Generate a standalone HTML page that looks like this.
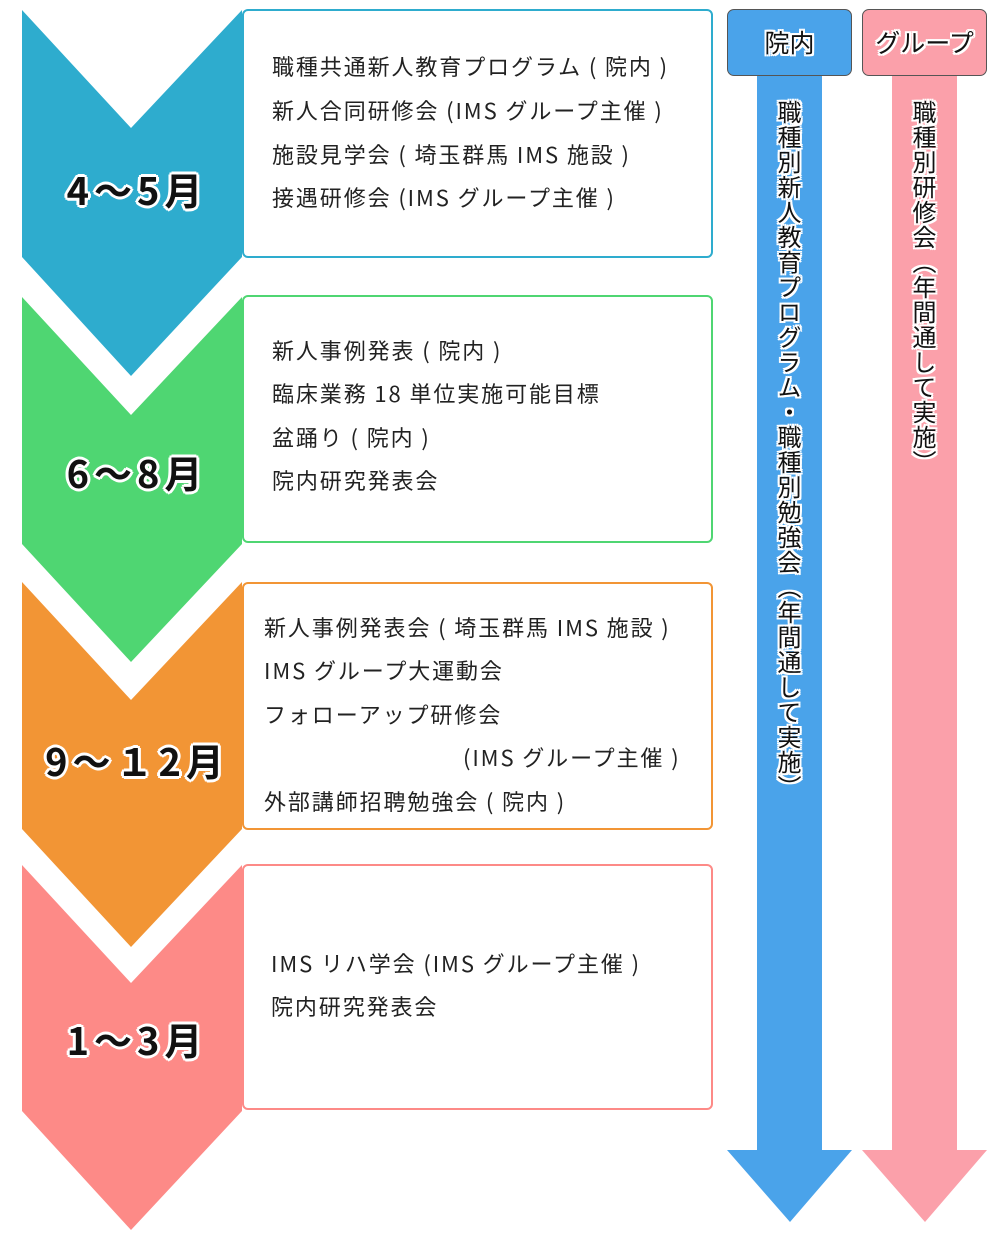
<!DOCTYPE html>
<html><head><meta charset="utf-8"><style>
body{margin:0;background:#fff;width:1000px;height:1246px;position:relative;overflow:hidden;font-family:"Noto Sans CJK JP","Liberation Sans",sans-serif;}
svg{position:absolute;left:0;top:0}
.box{position:absolute;left:242px;width:471px;background:#fff;border:2px solid;border-radius:6px;box-sizing:border-box}
.t{position:absolute;font-size:22px;color:#222;white-space:nowrap;line-height:1;letter-spacing:1.9px}
.m{position:absolute;font-size:38px;font-weight:bold;color:#111;white-space:nowrap;line-height:1;left:27px;width:220px;text-align:center;letter-spacing:5px;
 text-shadow:2px 0 0 #fff,-2px 0 0 #fff,0 2px 0 #fff,0 -2px 0 #fff,2px 2px 0 #fff,-2px -2px 0 #fff,2px -2px 0 #fff,-2px 2px 0 #fff,3px 0 0 #fff,-3px 0 0 #fff,0 3px 0 #fff,0 -3px 0 #fff}
.w{text-shadow:2px 0 0 #fff,-2px 0 0 #fff,0 2px 0 #fff,0 -2px 0 #fff,2px 2px 0 #fff,-2px -2px 0 #fff,2px -2px 0 #fff,-2px 2px 0 #fff}
.hd{position:absolute;top:9px;width:125px;height:67px;border:1px solid #555;border-radius:7px;box-sizing:border-box;font-size:25px;color:#111;text-align:center;line-height:65px}
.v{position:absolute;writing-mode:vertical-rl;font-size:24px;color:#111;letter-spacing:1px;line-height:1}
</style></head><body>
<svg width="1000" height="1246">
<polygon points="22,10 131,128 242,10 242,257 131,376 22,257" fill="#2eacce"/>
<polygon points="22,297 131,415 242,297 242,544 131,662 22,544" fill="#4fd672"/>
<polygon points="22,582 131,700 242,582 242,829 131,947 22,829" fill="#f29535"/>
<polygon points="22,865 131,983 242,865 242,1111 131,1230 22,1111" fill="#fd8a87"/>
<polygon points="757,76 822,76 822,1150 852,1150 790,1222 727,1150 757,1150" fill="#4aa3ea"/>
<polygon points="892,76 957,76 957,1150 987,1150 925,1222 862,1150 892,1150" fill="#fba0aa"/>
</svg>
<div class="box" style="top:9px;height:249px;border-color:#2eacce"></div>
<div class="box" style="top:295px;height:248px;border-color:#4fd672"></div>
<div class="box" style="top:582px;height:248px;border-color:#f29535"></div>
<div class="box" style="top:864px;height:246px;border-color:#fd8a87"></div>

<div class="t" style="left:272px;top:55px">職種共通新人教育プログラム ( 院内 )</div>
<div class="t" style="left:272px;top:99px">新人合同研修会 (IMS グループ主催 )</div>
<div class="t" style="left:272px;top:143px">施設見学会 ( 埼玉群馬 IMS 施設 )</div>
<div class="t" style="left:272px;top:186px">接遇研修会 (IMS グループ主催 )</div>

<div class="t" style="left:272px;top:339px">新人事例発表 ( 院内 )</div>
<div class="t" style="left:272px;top:382px">臨床業務 18 単位実施可能目標</div>
<div class="t" style="left:272px;top:426px">盆踊り ( 院内 )</div>
<div class="t" style="left:272px;top:469px">院内研究発表会</div>

<div class="t" style="left:264px;top:616px">新人事例発表会 ( 埼玉群馬 IMS 施設 )</div>
<div class="t" style="left:264px;top:659px">IMS グループ大運動会</div>
<div class="t" style="left:264px;top:703px">フォローアップ研修会</div>
<div class="t" style="left:463px;top:746px">(IMS グループ主催 )</div>
<div class="t" style="left:264px;top:790px">外部講師招聘勉強会 ( 院内 )</div>

<div class="t" style="left:271px;top:952px">IMS リハ学会 (IMS グループ主催 )</div>
<div class="t" style="left:271px;top:995px">院内研究発表会</div>

<div class="m" style="top:170px">4～5月</div>
<div class="m" style="top:453px">6～8月</div>
<div class="m" style="top:741px">9～１2月</div>
<div class="m" style="top:1020px">1～3月</div>

<div class="hd w" style="left:727px;background:#4aa3ea">院内</div>
<div class="hd w" style="left:862px;background:#fba0aa">グループ</div>
<div class="v w" style="left:777px;top:100px">職種別新人教育プログラム・職種別勉強会（年間通して実施）</div>
<div class="v w" style="left:912px;top:100px">職種別研修会（年間通して実施）</div>
</body></html>
